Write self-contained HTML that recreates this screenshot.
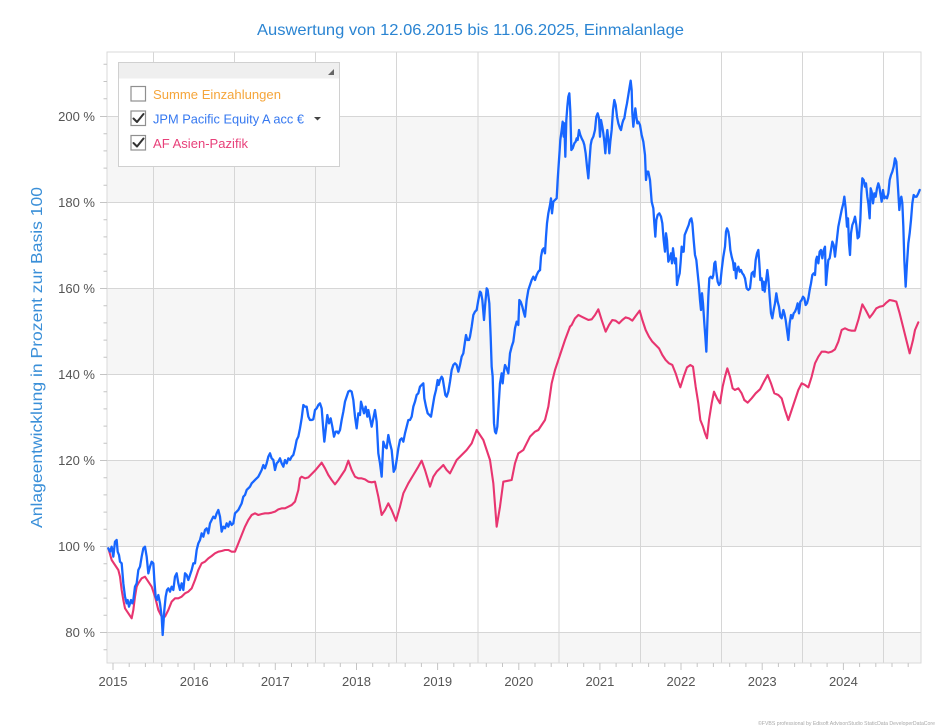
<!DOCTYPE html>
<html><head><meta charset="utf-8"><style>
html,body{margin:0;padding:0;background:#fff;}
svg{display:block;font-family:"Liberation Sans",sans-serif;}
.b{fill:none;stroke:#1766ff;stroke-width:2.3;stroke-linejoin:round;stroke-linecap:round;vector-effect:non-scaling-stroke;}
.p{fill:none;stroke:#e83570;stroke-width:2.1;stroke-linejoin:round;stroke-linecap:round;vector-effect:non-scaling-stroke;}
</style></head><body>
<svg width="940" height="727" viewBox="0 0 940 727" xmlns="http://www.w3.org/2000/svg">
<rect width="940" height="727" fill="#fff"/>
<!-- title -->
<text x="470.5" y="35" text-anchor="middle" font-size="16" fill="#2a84d2" textLength="427" lengthAdjust="spacingAndGlyphs">Auswertung von 12.06.2015 bis 11.06.2025, Einmalanlage</text>
<!-- y axis title -->
<text transform="translate(42,357.5) rotate(-90)" text-anchor="middle" font-size="16" fill="#3a8fd8" textLength="341" lengthAdjust="spacingAndGlyphs">Anlageentwicklung  in Prozent zur Basis 100</text>

<!-- plot area bands -->
<rect x="107" y="52" width="814" height="611" fill="#fff"/>
<rect x="107" y="116.5" width="814" height="86" fill="#f6f6f6"/>
<rect x="107" y="288.5" width="814" height="86" fill="#f6f6f6"/>
<rect x="107" y="460.5" width="814" height="86" fill="#f6f6f6"/>
<rect x="107" y="632.5" width="814" height="30.5" fill="#f6f6f6"/>
<!-- horizontal gridlines -->
<g stroke="#d6d6d6" stroke-width="1">
<line x1="107" x2="921" y1="116.5" y2="116.5"/>
<line x1="107" x2="921" y1="202.5" y2="202.5"/>
<line x1="107" x2="921" y1="288.5" y2="288.5"/>
<line x1="107" x2="921" y1="374.5" y2="374.5"/>
<line x1="107" x2="921" y1="460.5" y2="460.5"/>
<line x1="107" x2="921" y1="546.5" y2="546.5"/>
<line x1="107" x2="921" y1="632.5" y2="632.5"/>
<!-- vertical gridlines -->
<line x1="153.5" x2="153.5" y1="52" y2="663"/>
<line x1="234.5" x2="234.5" y1="52" y2="663"/>
<line x1="315.5" x2="315.5" y1="52" y2="663"/>
<line x1="396.5" x2="396.5" y1="52" y2="663"/>
<line x1="478" x2="478" y1="52" y2="663"/>
<line x1="559" x2="559" y1="52" y2="663"/>
<line x1="640.5" x2="640.5" y1="52" y2="663"/>
<line x1="721.5" x2="721.5" y1="52" y2="663"/>
<line x1="802.5" x2="802.5" y1="52" y2="663"/>
<line x1="883.5" x2="883.5" y1="52" y2="663"/>
</g>
<rect x="107" y="52" width="814" height="611" fill="none" stroke="#d9d9d9" stroke-width="1"/>

<!-- y ticks -->
<g stroke="#c4c4c4" stroke-width="1">
<line x1="100" x2="107" y1="116.5" y2="116.5"/>
<line x1="100" x2="107" y1="202.5" y2="202.5"/>
<line x1="100" x2="107" y1="288.5" y2="288.5"/>
<line x1="100" x2="107" y1="374.5" y2="374.5"/>
<line x1="100" x2="107" y1="460.5" y2="460.5"/>
<line x1="100" x2="107" y1="546.5" y2="546.5"/>
<line x1="100" x2="107" y1="632.5" y2="632.5"/>
<path d="M103.5 64.3h3.5M103.5 81.5h3.5M103.5 98.7h3.5M103.5 133.7h3.5M103.5 150.9h3.5M103.5 168.1h3.5M103.5 185.3h3.5M103.5 219.7h3.5M103.5 236.9h3.5M103.5 254.1h3.5M103.5 271.3h3.5M103.5 305.7h3.5M103.5 322.9h3.5M103.5 340.1h3.5M103.5 357.3h3.5M103.5 391.7h3.5M103.5 408.9h3.5M103.5 426.1h3.5M103.5 443.3h3.5M103.5 477.7h3.5M103.5 494.9h3.5M103.5 512.1h3.5M103.5 529.3h3.5M103.5 563.7h3.5M103.5 580.9h3.5M103.5 598.1h3.5M103.5 615.3h3.5M103.5 649.7h3.5"/>
</g>
<g font-size="13" fill="#555" text-anchor="end">
<text x="95" y="121">200 %</text>
<text x="95" y="207">180 %</text>
<text x="95" y="293">160 %</text>
<text x="95" y="379">140 %</text>
<text x="95" y="465">120 %</text>
<text x="95" y="551">100 %</text>
<text x="95" y="637">80 %</text>
</g>

<!-- x ticks -->
<g stroke="#c4c4c4" stroke-width="1">
<path d="M113 663v7M194.2 663v7M275.3 663v7M356.5 663v7M437.6 663v7M518.8 663v7M599.9 663v7M681 663v7M762.2 663v7M843.4 663v7"/>
<path d="M129.2 663v4M145.4 663v4M161.8 663v4M178 663v4M210.4 663v4M226.6 663v4M243 663v4M259.2 663v4M291.5 663v4M307.7 663v4M324.1 663v4M340.3 663v4M372.7 663v4M388.9 663v4M405.2 663v4M421.4 663v4M453.8 663v4M470 663v4M486.3 663v4M502.5 663v4M535 663v4M551.2 663v4M567.5 663v4M583.7 663v4M616.1 663v4M632.3 663v4M648.6 663v4M664.8 663v4M697.2 663v4M713.4 663v4M729.7 663v4M745.9 663v4M778.4 663v4M794.6 663v4M810.9 663v4M827.1 663v4M859.6 663v4M875.8 663v4M892 663v4M908.2 663v4"/>
</g>
<g font-size="13" fill="#555" text-anchor="middle">
<text x="113" y="686">2015</text>
<text x="194.2" y="686">2016</text>
<text x="275.3" y="686">2017</text>
<text x="356.5" y="686">2018</text>
<text x="437.6" y="686">2019</text>
<text x="518.8" y="686">2020</text>
<text x="599.9" y="686">2021</text>
<text x="681" y="686">2022</text>
<text x="762.2" y="686">2023</text>
<text x="843.4" y="686">2024</text>
</g>

<!-- pink series -->
<g transform="translate(105,370) scale(0.33333)">
<path class="p" d="M10,535 L20,570 30,585 40,600 45,620 50,660 55,690 60,715 70,730 80,745 85,720 90,680 95,650 100,640 110,625 120,620 130,635 140,650 150,680 160,720 170,740 180,740 190,720 200,695 210,685 220,685 230,680 240,670 250,665 260,655 270,630 280,600 290,580 300,575 310,565 320,558 330,550 340,545 350,543 360,540 370,540 380,545 390,545 400,520 410,495 420,470 430,450 440,435 450,430 460,435 470,432 480,430 490,430 500,428 510,425 520,418 530,415 540,415 550,410 560,405 570,395 580,360 585,325 590,320 600,325 610,322 620,312 630,302 640,290 650,278 660,295 670,315 680,330 690,343 700,330 710,315 720,300 730,272 740,300 750,320 760,325 770,325 780,328 790,335 800,337 810,335 820,380 830,435 840,420 850,400 860,420 873,452"/>
</g>
<g transform="translate(370,270) scale(0.33333)">
<path class="p" d="M78,752 L90,710 100,670 115,640 130,615 145,590 155,572 165,600 180,650 190,620 200,605 210,595 220,585 230,600 240,610 250,590 260,570 275,555 290,540 305,520 320,480 330,495 340,510 350,540 360,570 370,640 380,770 390,710 400,635 415,632 425,630 435,580 445,550 460,540 470,520 480,500 495,485 505,480 515,465 525,450 535,410 545,340 555,300 570,255 585,210 600,170"/>
</g>
<g transform="translate(535,70) scale(0.33333)">
<path class="p" d="M105,770 L110,765 120,745 130,735 140,740 150,745 160,750 170,748 180,735 190,718 200,750 212,785 222,765 232,750 242,752 252,760 262,750 272,742 282,745 292,752 302,738 314,722 322,750 332,780 342,800 352,815 362,825 372,835 382,855 392,870 402,880 412,885 422,910 430,935 436,952 446,920 456,892 466,885 474,890 482,950 490,1000 496,1050 504,1070 510,1090 516,1105 522,1050 530,1000 537,965 546,985 555,1000 563,950 570,920 577,895 585,920 593,955 600,960 610,955 620,970 628,990"/>
</g>
<g transform="translate(735,150) scale(0.33333)">
<path class="p" d="M28,750 L38,758 50,745 62,730 75,718 87,695 98,675 108,700 118,730 130,735 140,745 150,780 160,810 170,780 180,750 190,720 200,700 210,705 220,712 230,680 240,640 250,620 260,605 270,605 280,608 290,605 300,598 310,575 320,540 330,535 340,540 350,542 360,542 370,510 382,463 392,480 404,503 414,490 424,475 434,470 444,468 454,458 464,450 474,452 484,455 494,490 504,530 514,570 524,610 534,570 540,540 550,517"/>
</g>

<!-- blue series -->
<g transform="translate(105,370) scale(0.33333)">
<path class="b" d="M10,535 L15,545 20,530 25,560 30,515 35,510 38,545 42,555 45,575 50,580 55,640 60,680 65,700 68,690 72,710 78,690 82,700 85,690 90,650 95,640 100,600 105,590 110,560 115,535 120,530 125,560 130,610 135,590 140,575 145,580 148,630 152,680 156,690 160,675 165,700 170,740 173,795 178,720 182,680 186,660 190,655 195,665 200,650 205,660 210,620 215,610 220,640 225,660 230,640 235,660 240,610 245,615 250,630 255,615 260,600 265,580 270,580 275,540 280,520 285,510 290,490 295,500 300,480 305,475 310,490 315,460 320,450 325,440 330,445 335,430 340,420 345,440 350,485 355,470 360,475 365,460 370,470 375,455 380,465 385,460 390,430 395,425 400,420 405,410 410,400 415,380 420,375 425,360 430,355 435,350 440,340 445,335 450,330 455,325 460,320 465,310 470,300 475,285 480,295 485,280 490,260 495,250 500,265 505,270 510,300 515,280 520,275 525,265 530,280 535,290 540,270 545,280 550,265 555,270 560,260 565,255 570,235 575,210 580,200 585,175 590,145 595,105 600,110 605,110 610,140 615,150 620,150 625,148 630,120 635,115 640,105 645,100 650,115 655,180 658,215 662,180 667,135 672,160 677,145 682,170 687,200 692,185 697,185 700,190 705,180 710,150 715,125 720,95 725,80 730,65 735,62 740,65 745,90 750,140 755,175 760,130 765,135 768,95 772,110 777,130 782,110 787,140 790,120 795,145 800,170 805,145 810,120 815,155 820,250 825,280 830,320 835,215 840,230 845,235 850,195 855,220 860,240 866,305"/>
</g>
<g transform="translate(370,270) scale(0.33333)">
<path class="b" d="M71,605 L76,595 80,570 85,535 90,510 95,505 100,515 105,490 110,470 115,450 120,450 125,440 130,410 135,395 140,375 145,370 150,350 155,345 160,340 163,385 168,410 173,430 178,435 183,440 188,410 193,380 198,360 203,330 206,345 210,330 215,320 218,325 222,350 226,375 230,380 235,365 240,335 245,300 250,285 255,280 260,285 265,305 270,285 275,260 280,250 285,215 288,195 292,210 297,210 300,200 305,170 310,135 315,125 320,120 325,90 330,65 333,68 337,90 342,150 345,110 350,55 353,60 358,100 362,200 365,290 368,320 372,460 375,485 378,490 382,470 385,420 390,340 395,310 398,340 401,310 405,285 410,295 415,310 420,250 425,230 430,215 435,175 440,155 445,165 448,90 452,95 457,110 462,130 465,140 470,90 475,60 480,45 485,30 490,20 495,30 500,15 505,5 510,0"/>
</g>
<g transform="translate(535,70) scale(0.33333)">
<path class="b" d="M15,600 L18,560 22,540 26,535 30,550 33,500 36,460 40,430 45,405 48,385 51,430 55,395 60,390 65,385 68,330 72,270 76,210 80,180 83,155 86,200 88,160 91,260 94,150 97,110 100,80 103,70 106,125 109,240 113,235 118,220 122,215 125,205 128,210 132,180 136,195 140,205 145,215 148,225 152,250 156,290 160,325 163,280 167,225 170,210 175,200 180,180 184,140 188,130 192,145 195,200 198,150 202,170 205,190 208,215 211,250 214,205 217,180 220,210 223,250 226,215 230,180 234,120 238,90 242,105 246,140 250,160 255,175 258,180 262,160 265,150 268,145 272,120 276,100 280,75 284,50 287,32 290,60 292,130 295,170 298,140 301,115 304,140 307,160 310,155 315,165 320,195 325,215 330,255 333,330 336,305 340,305 345,330 350,395 355,415 358,460 361,500 364,450 368,435 373,430 378,440 382,460 386,510 390,545 393,490 396,510 400,575 404,565 408,550 411,580 414,535 417,560 420,580 423,565 426,645 430,625 434,610 437,575 440,530 443,545 446,545 449,495 453,485 457,475 461,465 465,450 469,445 472,460 476,510 480,555 484,570 488,610 492,650 495,690 498,720 501,670 504,700 508,760 511,800 514,845 517,760 520,680 523,625 527,620 532,625 535,615 538,580 541,575 544,605 548,635 552,645 556,640 560,600 565,560 570,530 573,485 576,475 580,485 583,505 586,540 590,560 594,575 597,600 600,580 603,625 606,600 610,590 614,605 618,600 622,610 626,615 630,625"/>
</g>
<g transform="translate(735,150) scale(0.33333)">
<path class="b" d="M30,385 L35,415 40,420 45,415 50,370 55,365 58,380 62,330 66,310 70,300 73,340 76,390 80,385 83,420 86,395 89,425 93,395 97,360 100,385 104,440 108,490 112,505 116,480 120,460 124,430 128,455 132,470 136,500 140,505 145,480 148,490 152,510 156,540 160,570 164,520 168,495 172,505 176,490 180,485 184,475 188,460 192,490 196,455 200,450 204,440 208,445 212,465 216,460 220,445 224,420 228,400 232,375 236,370 240,375 243,330 246,320 250,340 254,305 258,300 262,325 266,300 270,290 273,405 276,370 280,330 284,325 288,300 292,275 296,285 300,320 305,275 310,230 315,205 320,180 325,160 328,140 332,175 336,230 339,205 342,280 345,315 348,250 352,225 356,215 360,200 364,225 368,265 372,260 376,210 379,130 382,85 386,90 390,110 393,100 397,140 400,160 404,205 407,115 410,125 414,160 418,130 422,140 426,115 430,100 433,110 436,130 440,155 444,120 448,145 452,140 456,145 460,130 464,90 468,75 472,65 476,50 480,25 484,35 487,80 490,130 493,180 496,150 499,140 502,160 505,230 508,330 512,410 516,340 520,280 524,250 528,210 532,160 536,135 540,140 545,140 550,130 554,120"/>
</g>

<!-- legend -->
<rect x="118.5" y="62.5" width="221" height="104" fill="#fff" stroke="#d0d0d0" stroke-width="1"/>
<rect x="119" y="63" width="220" height="15.5" fill="#efefef"/>
<path d="M334 69 L334 75 L328 75 Z" fill="#666"/>
<g fill="#fff" stroke="#8f8f8f" stroke-width="1.2">
<rect x="131" y="86.5" width="14.5" height="14.5"/>
<rect x="131" y="111" width="14.5" height="14.5"/>
<rect x="131" y="135.5" width="14.5" height="14.5"/>
</g>
<g fill="none" stroke="#333" stroke-width="2" stroke-linecap="round" stroke-linejoin="round">
<path d="M133.5 118.5 L137 122 L143.5 114"/>
<path d="M133.5 143 L137 146.5 L143.5 138.5"/>
</g>
<g font-size="13">
<text x="153" y="99" fill="#f5a53a" textLength="128" lengthAdjust="spacingAndGlyphs">Summe Einzahlungen</text>
<text x="153" y="123.5" fill="#3578f0" textLength="151" lengthAdjust="spacingAndGlyphs">JPM Pacific Equity A acc €</text>
<text x="153" y="148" fill="#e8407a" textLength="95" lengthAdjust="spacingAndGlyphs">AF Asien-Pazifik</text>
</g>
<path d="M314 117 L321 117 L317.5 120.5 Z" fill="#444"/>

<!-- footnote -->
<text x="935" y="725" text-anchor="end" font-size="5.5" fill="#a8a8a8" textLength="177" lengthAdjust="spacingAndGlyphs">©FVBS professional by Edisoft AdvisonStudio StaticData DeveloperDataCore</text>
</svg>
</body></html>
